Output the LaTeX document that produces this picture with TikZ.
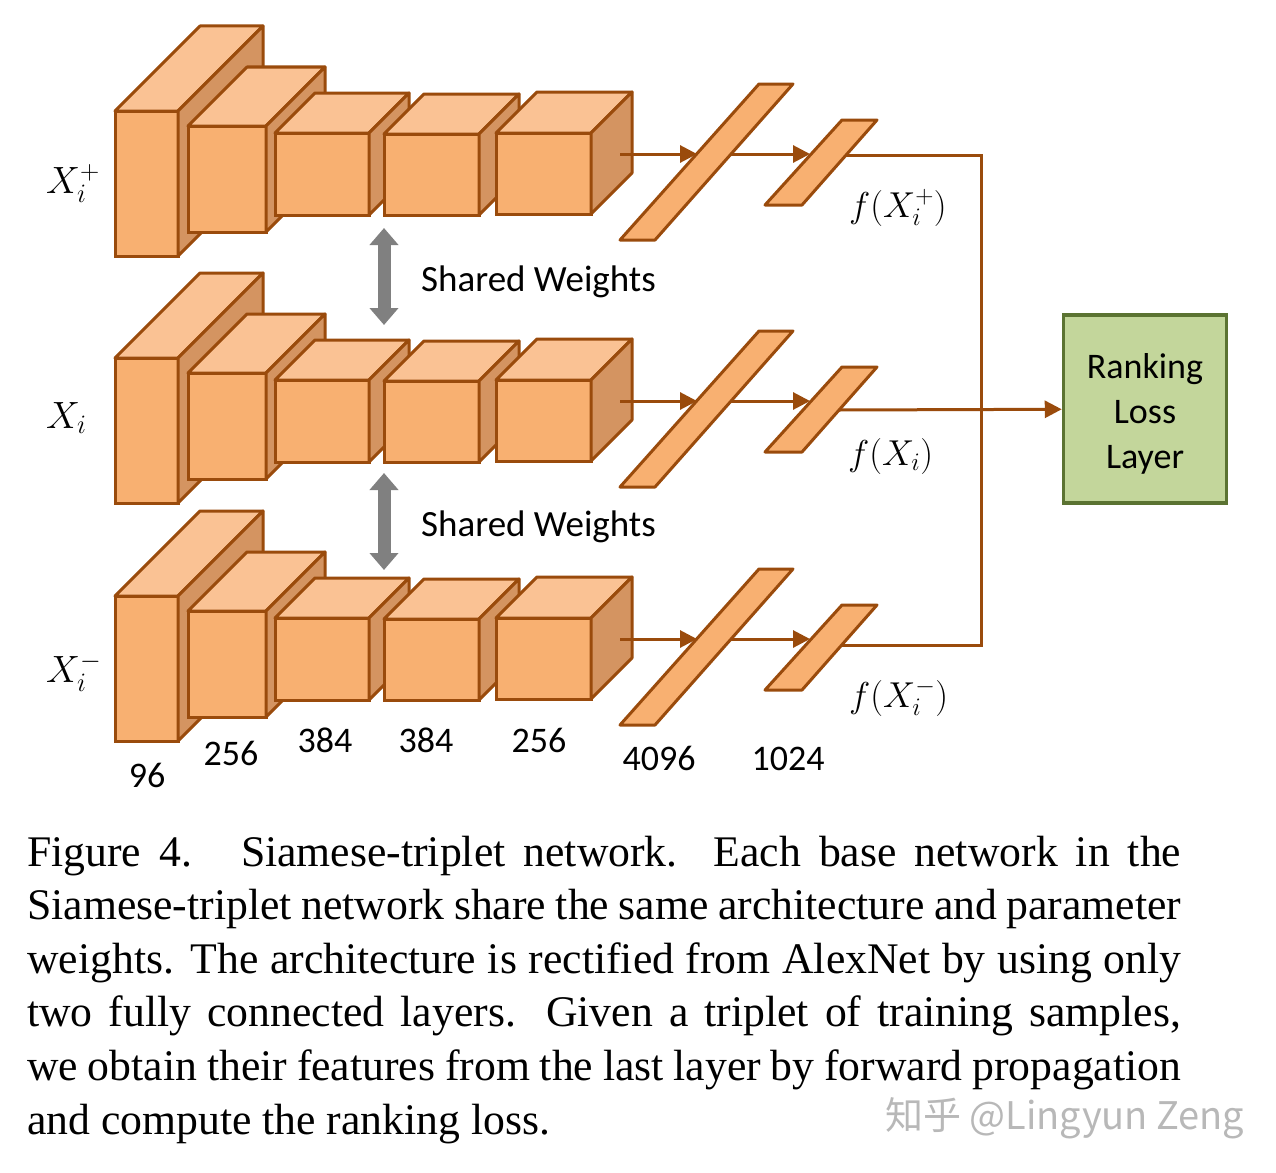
\RequirePackage{fix-cm}
\documentclass[tikz,border=0pt]{standalone}
\usepackage{fontspec}
\setmainfont{Liberation Serif}
\newfontfamily\calibri{Carlito}
\newfontfamily\cjk{Noto Sans CJK SC}
\usetikzlibrary{arrows.meta}
\definecolor{edge}{HTML}{9A4B0C}
\definecolor{face}{HTML}{F8B071}
\definecolor{facetop}{HTML}{FAC294}
\definecolor{faceside}{HTML}{D49461}
\definecolor{wgray}{HTML}{808080}
\definecolor{lossfill}{HTML}{C3D69B}
\definecolor{lossdraw}{HTML}{5B7332}
\definecolor{wm}{HTML}{B8B8B8}
\begin{document}
\begin{tikzpicture}[x=1pt,y=-1pt,
    front/.style={draw=edge, fill=face, line width=3pt, inner sep=0, outer sep=0, anchor=north west},
    topface/.style={draw=edge, fill=facetop, line width=3pt, line join=round},
    sideface/.style={draw=edge, fill=faceside, line width=3pt, line join=round},
    fc/.style={draw=edge, fill=face, line width=3pt, line join=round},
    link/.style={draw=edge, line width=3pt},
    arr/.style={link, -{Triangle[length=17pt,width=17pt]}},
    shared/.style={draw=wgray, line width=13pt, {Triangle[length=17pt,width=28pt]}-{Triangle[length=17pt,width=28pt]}},
    lbl/.style={font=\calibri\fontsize{36}{45}\selectfont, inner sep=0},
    sym/.style={font=\fontsize{38}{42}\selectfont, inner sep=0, anchor=base west},
    fsym/.style={font=\fontsize{36}{40}\selectfont, inner sep=0, anchor=base west}]

  \useasboundingbox (0,0) rectangle (1276,1172);

  \foreach \r/\dy in {p/0, a/247, n/485} {
    \begin{scope}[yshift=-\dy pt]
      \foreach \i/\x/\y/\w/\h/\d in {1/115/111/63/145/85, 2/188/126/78/106/59,
          3/275/133/94/82/40, 4/384/134/95/81/40, 5/496/133/95/81/41} {
        \node[front, minimum width=\w pt, minimum height=\h pt] (b\i-\r) at (\x,\y) {};
        \draw[topface] (b\i-\r.north west) -- ++(\d,-\d) -- ++(\w,0) -- (b\i-\r.north east) -- cycle;
        \draw[sideface] (b\i-\r.north east) -- ++(\d,-\d) -- ++(0,\h) -- (b\i-\r.south east) -- cycle;
      }
      \draw[fc] (620,240) -- (655,240) -- (793,84) -- (759,84) -- cycle;
      \draw[fc] (765,205) -- (802,205) -- (877,120) -- (842,120) -- cycle;
      \coordinate (s-\r)   at (620,154);
      \coordinate (f1a-\r) at (697,154);
      \coordinate (f1b-\r) at (731,154);
      \coordinate (f2a-\r) at (810,154);
      \draw[arr] (s-\r) -- (f1a-\r);
      \draw[arr] (f1b-\r) -- (f2a-\r);
    \end{scope}
  }

  \node[draw=lossdraw, fill=lossfill, line width=3.5pt, minimum width=163pt, minimum height=188pt,
        align=center, lbl] (loss) at (1145,409) {\rule{0pt}{34pt}Ranking\\Loss\\Layer};

  \coordinate (o-p) at (846,155);
  \coordinate (o-a) at (839,410);
  \coordinate (o-n) at (842,645);
  \draw[link] (o-p) -- ++(135,0) |- (o-n);
  \draw[arr] (o-a) -- (loss);

  \coordinate (w1a) at (384,228);
  \coordinate (w1b) at (384,325);
  \coordinate (w2a) at (384,473);
  \coordinate (w2b) at (384,570);
  \draw[shared] (w1a) -- (w1b);
  \draw[shared] (w2a) -- (w2b);

  \begin{scope}[every node/.style={lbl, font=\calibri\fontsize{37}{45}\selectfont, anchor=base west}]
    \node (sw1) at (421,291) {Shared Weights};
    \node (sw2) at (421,536) {Shared Weights};
  \end{scope}

  \node[sym] (xp) at (46,193) {$X_i^+$};
  \node[sym] (xa) at (46,428) {$X_i$};
  \node[sym] (xn) at (46,682) {$X_i^-$};
  \node[fsym] (fp) at (849,217) {$f(X_i^+)$};
  \node[fsym] (fa) at (848,465) {$f(X_i)$};
  \node[fsym] (fn) at (849,707) {$f(X_i^-)$};

  \begin{scope}[every node/.style={lbl, anchor=base}]
    \node (n1) at (147,787) {96};
    \node (n2) at (231,765) {256};
    \node (n3) at (325,752) {384};
    \node (n4) at (426,752) {384};
    \node (n5) at (539,752) {256};
    \node (n6) at (659,770) {4096};
    \node (n7) at (788,770) {1024};
  \end{scope}

  \node[anchor=base west, inner sep=0] (cap) at (27,866) {\parbox[t]{1154pt}{\fontsize{43.7}{53.6}\selectfont
    Figure 4.\hspace{0.3em} Siamese-triplet network.  Each base network in the\linebreak
    Siamese-triplet network share the same architecture and parameter\linebreak
    weights. The architecture is rectified from AlexNet by using only\linebreak
    two fully connected layers.  Given a triplet of training samples,\linebreak
    we obtain their features from the last layer by forward propagation\linebreak
    and compute the ranking loss.}};

  \node[anchor=base west, inner sep=0, text=wm, font=\cjk\fontsize{38}{42}\selectfont] (mark) at (885,1129) {知乎 @Lingyun Zeng};

\end{tikzpicture}
\end{document}
